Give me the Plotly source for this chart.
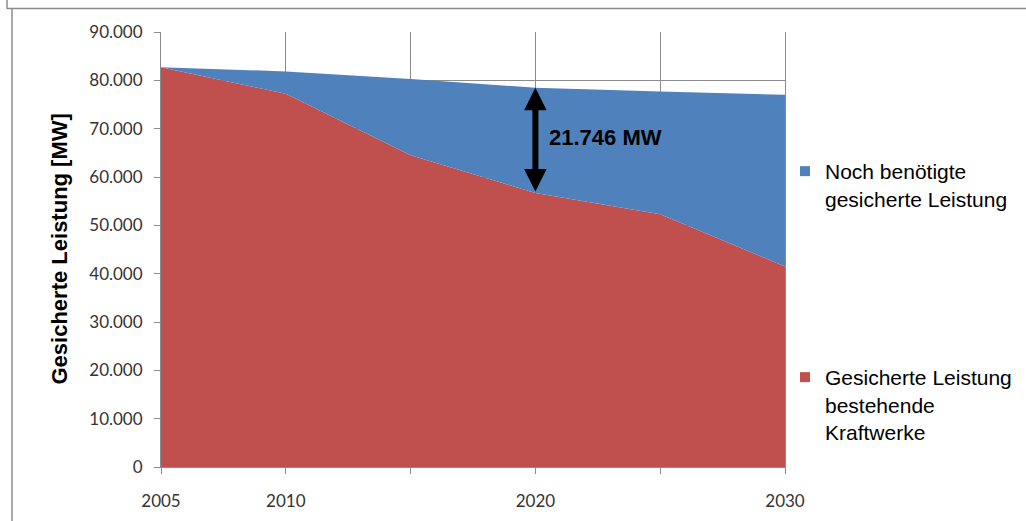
import plotly.graph_objects as go

# Jahre und Leistungswerte (MW)
years = [2005, 2010, 2015, 2020, 2025, 2030]
bestehend = [82700, 77200, 64500, 56700, 52300, 41500]       # gesicherte Leistung bestehender Kraftwerke
noch_benoetigt = [0, 4650, 15800, 21746, 25400, 35500]       # noch benötigte gesicherte Leistung
x_ticklabels = ["2005", "2010", "", "2020", "", "2030"]
y_ticks = [0, 10000, 20000, 30000, 40000, 50000, 60000, 70000, 80000, 90000]

RED = "#C0504D"
BLUE = "#4F81BD"
GRID = "#8C8C8C"

# Plotbereich in Pixeln
W, H = 1026, 521
L, R, T, B = 161, 785, 32, 467


def px_x(p):
    return (p - L) / (R - L)


def px_y(p):
    return (B - p) / (B - T)


fig = go.Figure()

fig.add_trace(go.Scatter(
    x=years, y=bestehend, stackgroup="one", mode="none",
    fillcolor=RED, showlegend=False, hoverinfo="skip",
))
fig.add_trace(go.Scatter(
    x=years, y=noch_benoetigt, stackgroup="one", mode="none",
    fillcolor=BLUE, showlegend=False, hoverinfo="skip",
))

# Legendeneinträge mit kleinen quadratischen Symbolen
fig.add_trace(go.Scatter(
    x=[None], y=[None], mode="markers",
    marker=dict(symbol="square", size=10, color=BLUE),
    name="Noch benötigte<br>gesicherte Leistung", legend="legend",
))
fig.add_trace(go.Scatter(
    x=[None], y=[None], mode="markers",
    marker=dict(symbol="square", size=10, color=RED),
    name="Gesicherte Leistung<br>bestehende<br>Kraftwerke", legend="legend2",
))

# Doppelpfeil für die Deckungslücke 2020
i20 = years.index(2020)
gap = noch_benoetigt[i20]
lower = bestehend[i20]
upper = lower + gap
fig.add_annotation(
    x=2020, y=upper, ax=2020, ay=lower, xref="x", yref="y", axref="x", ayref="y",
    text="", showarrow=True, arrowhead=2, startarrowhead=2, arrowside="end+start",
    arrowwidth=6, arrowsize=0.75, startarrowsize=0.75, arrowcolor="black",
)
fig.add_annotation(
    x=2020, y=(upper + lower) / 2 + 600, xref="x", yref="y",
    text="<b>{:,.0f} MW</b>".format(gap).replace(",", "."),
    showarrow=False, xanchor="left", yanchor="middle", xshift=12,
    font=dict(family="Liberation Sans", size=22, color="black"),
)

# y-Achsentitel
fig.add_annotation(
    x=px_x(44), y=px_y(249), xref="paper", yref="paper",
    text="<b>Gesicherte Leistung [MW]</b>", textangle=-90, showarrow=False,
    font=dict(family="Liberation Sans", size=22, color="black"),
)

# Rahmen des Diagrammobjekts
frame = dict(type="line", xref="paper", yref="paper", line=dict(color="#8C8C8C", width=1.5))
fig.add_shape(**frame, x0=px_x(7), x1=px_x(7), y0=px_y(0), y1=px_y(9))
fig.add_shape(**frame, x0=px_x(7), x1=px_x(W), y0=px_y(8.5), y1=px_y(8.5))
fig.add_shape(**frame, x0=px_x(12), x1=px_x(12), y0=px_y(9), y1=px_y(H))

tick_font = dict(family="Lato", size=17, color="#333333")
legend_font = dict(family="Liberation Sans", size=21, color="black")

fig.update_layout(
    width=W, height=H,
    margin=dict(l=L, r=W - R, t=T, b=H - B, pad=0, autoexpand=False),
    paper_bgcolor="white", plot_bgcolor="white",
    separators=",.",
    xaxis=dict(
        range=[2005, 2030], tickvals=years, ticktext=x_ticklabels,
        showgrid=True, gridcolor=GRID, gridwidth=1,
        showline=True, linecolor=GRID, linewidth=1,
        ticks="outside", ticklen=6, tickcolor=GRID,
        tickfont=tick_font, ticklabelstandoff=13, zeroline=False,
    ),
    yaxis=dict(
        range=[0, 90000], tickvals=y_ticks, tickformat=",d",
        showgrid=True, gridcolor=GRID, gridwidth=1,
        showline=True, linecolor=GRID, linewidth=1, mirror=True,
        ticks="outside", ticklen=6, tickcolor=GRID,
        tickfont=tick_font, ticklabelstandoff=8, zeroline=False,
    ),
    legend=dict(
        x=px_x(785), y=px_y(151), xanchor="left", yanchor="top", valign="top",
        font=legend_font, bgcolor="rgba(0,0,0,0)", itemwidth=30,
    ),
    legend2=dict(
        x=px_x(785), y=px_y(357), xanchor="left", yanchor="top", valign="top",
        font=legend_font, bgcolor="rgba(0,0,0,0)", itemwidth=30,
    ),
    showlegend=True,
)

fig.write_html("out.html")
